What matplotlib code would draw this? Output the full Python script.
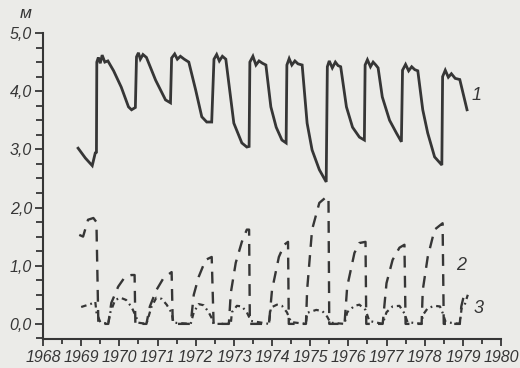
import matplotlib
matplotlib.use("Agg")
import matplotlib.pyplot as plt
from matplotlib.ticker import FixedLocator, MultipleLocator

# Curve 1 - water level (solid)
years_1 = [1968.92, 1969.11, 1969.29, 1969.37, 1969.40, 1969.41, 1969.45, 1969.50, 1969.55, 1969.62, 1969.70,
           1969.85, 1970.05, 1970.24, 1970.32, 1970.42,
           1970.45, 1970.50, 1970.55, 1970.62, 1970.71,
           1970.95, 1971.21, 1971.34,
           1971.37, 1971.45, 1971.52, 1971.60, 1971.70, 1971.82,
           1972.00, 1972.16, 1972.29, 1972.42,
           1972.48, 1972.55, 1972.62, 1972.70, 1972.79,
           1973.00, 1973.21, 1973.34, 1973.40,
           1973.42, 1973.50, 1973.58, 1973.66, 1973.75, 1973.84,
           1973.97, 1974.11, 1974.26, 1974.37,
           1974.39, 1974.45, 1974.52, 1974.60, 1974.68, 1974.79,
           1974.92, 1975.05, 1975.24, 1975.42,
           1975.45, 1975.50, 1975.58, 1975.66, 1975.73, 1975.80,
           1975.95, 1976.11, 1976.29, 1976.42,
           1976.44, 1976.50, 1976.58, 1976.65, 1976.72, 1976.78,
           1976.89, 1977.08, 1977.26, 1977.39,
           1977.42, 1977.50, 1977.58, 1977.66, 1977.74, 1977.82,
           1977.95, 1978.08, 1978.26, 1978.45,
           1978.47, 1978.54, 1978.62, 1978.70, 1978.80, 1978.92,
           1979.11]
level_1 = [3.02, 2.85, 2.72, 2.94, 2.95, 4.50, 4.58, 4.48, 4.62, 4.50, 4.52,
           4.35, 4.07, 3.73, 3.68, 3.72,
           4.59, 4.66, 4.55, 4.63, 4.58,
           4.19, 3.85, 3.80,
           4.57, 4.64, 4.55, 4.60, 4.55, 4.50,
           4.02, 3.56, 3.47, 3.47,
           4.55, 4.63, 4.52, 4.60, 4.55,
           3.45, 3.11, 3.04, 3.05,
           4.50, 4.60, 4.45, 4.52, 4.48, 4.45,
           3.73, 3.38, 3.16, 3.11,
           4.45, 4.56, 4.45, 4.52, 4.47, 4.45,
           3.45, 2.99, 2.65, 2.44,
           4.42, 4.52, 4.40, 4.50, 4.44, 4.42,
           3.73, 3.38, 3.21, 3.16,
           4.45, 4.54, 4.42, 4.50, 4.45, 4.40,
           3.90, 3.50, 3.28, 3.13,
           4.36, 4.46, 4.35, 4.42, 4.37, 4.35,
           3.68, 3.28, 2.87, 2.73,
           4.25, 4.36, 4.24, 4.30, 4.22, 4.20,
           3.68]

# Curve 2 - dashed
years_2 = [1968.95, 1969.05, 1969.18, 1969.32, 1969.40, 1969.45, 1969.71,
           1969.79, 1969.97, 1970.15, 1970.32, 1970.40, 1970.42, 1970.71,
           1970.80, 1970.97, 1971.16, 1971.37, 1971.40, 1971.87,
           1971.95, 1972.08, 1972.26, 1972.42, 1972.47, 1972.87,
           1972.92, 1973.05, 1973.21, 1973.34, 1973.40, 1973.42, 1973.92,
           1974.00, 1974.18, 1974.32, 1974.42, 1974.44, 1974.89,
           1974.92, 1975.05, 1975.24, 1975.42, 1975.48, 1975.50, 1975.90,
           1975.97, 1976.16, 1976.29, 1976.45, 1976.47, 1976.90,
           1977.00, 1977.16, 1977.34, 1977.47, 1977.50, 1977.92,
           1977.95, 1978.08, 1978.26, 1978.47, 1978.50, 1978.92,
           1978.96, 1979.05]
level_2 = [1.53, 1.50, 1.79, 1.82, 1.75, 0.0, 0.0,
           0.36, 0.64, 0.81, 0.84, 0.84, 0.0, 0.0,
           0.30, 0.58, 0.79, 0.89, 0.0, 0.0,
           0.50, 0.81, 1.10, 1.15, 0.0, 0.0,
           0.53, 1.05, 1.41, 1.62, 1.62, 0.0, 0.0,
           0.58, 1.15, 1.36, 1.41, 0.0, 0.0,
           0.58, 1.62, 2.08, 2.18, 2.18, 0.0, 0.0,
           0.64, 1.22, 1.39, 1.41, 0.0, 0.0,
           0.70, 1.10, 1.31, 1.36, 0.0, 0.0,
           0.58, 1.15, 1.62, 1.73, 0.0, 0.0,
           0.30, 0.55]

# Curve 3 - dash-dot
years_3 = [1969.00, 1969.24, 1969.37, 1969.40, 1969.50, 1969.71,
           1969.76, 1969.89, 1970.03, 1970.18, 1970.32, 1970.42, 1970.50, 1970.71,
           1970.84, 1970.97, 1971.11, 1971.24, 1971.37, 1971.42, 1971.87,
           1971.95, 1972.08, 1972.21, 1972.34, 1972.42, 1972.47, 1972.92,
           1972.95, 1973.08, 1973.21, 1973.34, 1973.45, 1973.92,
           1973.97, 1974.13, 1974.26, 1974.39, 1974.50, 1974.89,
           1974.92, 1975.16, 1975.32, 1975.45, 1975.53, 1975.90,
           1975.97, 1976.16, 1976.29, 1976.45, 1976.55, 1976.90,
           1977.00, 1977.16, 1977.34, 1977.47, 1977.55, 1977.92,
           1977.95, 1978.08, 1978.26, 1978.40, 1978.47, 1978.55, 1978.92,
           1978.97, 1979.05, 1979.13]
level_3 = [0.29, 0.34, 0.38, 0.20, 0.03, 0.0,
           0.19, 0.41, 0.45, 0.41, 0.29, 0.15, 0.02, 0.0,
           0.29, 0.45, 0.43, 0.33, 0.19, 0.02, 0.0,
           0.20, 0.34, 0.32, 0.20, 0.10, 0.0, 0.0,
           0.20, 0.31, 0.30, 0.20, 0.05, 0.0,
           0.28, 0.33, 0.31, 0.20, 0.03, 0.0,
           0.19, 0.24, 0.22, 0.12, 0.02, 0.0,
           0.20, 0.31, 0.33, 0.24, 0.05, 0.0,
           0.20, 0.30, 0.31, 0.18, 0.03, 0.0,
           0.15, 0.27, 0.31, 0.30, 0.19, 0.03, 0.0,
           0.28, 0.33, 0.50]

year_ticks = list(range(1968, 1981))
level_ticks = [0.0, 1.0, 2.0, 3.0, 4.0, 5.0]
level_labels = ["0,0", "1,0", "2,0", "3,0", "4,0", "5,0"]

INK = "#363636"
PAPER = "#ebebe8"
FONT = ["Liberation Sans", "DejaVu Sans"]

fig = plt.figure(figsize=(5.2, 3.68), dpi=100, facecolor=PAPER)
ax = fig.add_axes([43 / 520, 29 / 368, 458 / 520, 306 / 368])
ax.set_facecolor(PAPER)

ax.plot(years_1, level_1, color=INK, linewidth=2.0, solid_joinstyle="miter")
ax.plot(years_2, level_2, color=INK, linewidth=1.7, linestyle=(0, (5, 3.5)))
ax.plot(years_3, level_3, color=INK, linewidth=1.6, linestyle=(0, (2.5, 1.8, 0.8, 1.8)))

ax.text(1979.22, 3.93, "1", fontsize=13, fontstyle="italic", family=FONT, color=INK,
        ha="left", va="center")
ax.text(1978.82, 1.01, "2", fontsize=13, fontstyle="italic", family=FONT, color=INK,
        ha="left", va="center")
ax.text(1979.28, 0.27, "3", fontsize=13, fontstyle="italic", family=FONT, color=INK,
        ha="left", va="center")

ax.set_xlim(1968, 1980)
ax.set_ylim(-0.26, 5.0)
for side in ("top", "right"):
    ax.spines[side].set_visible(False)
for side in ("left", "bottom"):
    ax.spines[side].set_color(INK)
    ax.spines[side].set_linewidth(1.5)

ax.xaxis.set_major_locator(FixedLocator(year_ticks))
ax.xaxis.set_minor_locator(MultipleLocator(0.5))
ax.set_xticklabels([str(y) for y in year_ticks])
ax.yaxis.set_major_locator(FixedLocator(level_ticks))
ax.yaxis.set_minor_locator(MultipleLocator(0.25))
ax.set_yticklabels(level_labels)

ax.tick_params(axis="both", which="both", direction="out", color=INK, width=1.3)
ax.tick_params(axis="x", which="major", length=5, pad=3)
ax.tick_params(axis="x", which="minor", length=3.5)
ax.tick_params(axis="y", which="major", length=6, pad=2)
ax.tick_params(axis="y", which="minor", length=5)
for lab in ax.get_xticklabels() + ax.get_yticklabels():
    lab.set_family(FONT)
    lab.set_fontstyle("italic")
    lab.set_fontsize(11.5)
    lab.set_color(INK)

fig.text(26 / 520, 1 - 13 / 368, "м", fontsize=12.5, fontstyle="italic", family=FONT,
         color=INK, ha="center", va="center")

fig.savefig("out.png", dpi=100, facecolor=PAPER)
